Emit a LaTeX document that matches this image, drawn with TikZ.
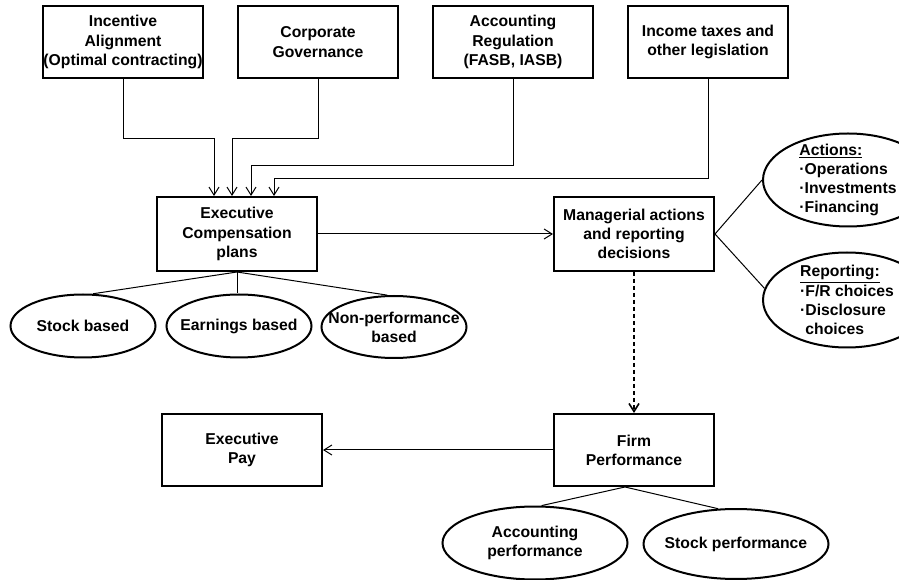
\documentclass[tikz,border=0pt]{standalone}
\usepackage{fontspec}
\setmainfont{Liberation Sans}
\usetikzlibrary{shapes,arrows.meta,positioning,calc}

\begin{document}
\begin{tikzpicture}[
    x=0.75pt, y=-0.75pt,
    node distance=24.75pt,
    font=\fontsize{11.8}{14.4}\selectfont\bfseries,
    box/.style={rectangle, draw=black, line width=1.5pt, align=center, inner xsep=0pt, minimum width=120pt, minimum height=54pt},
    oval/.style={ellipse, draw=black, line width=1.5pt, align=center, inner sep=-60pt},
    link/.style={line width=0.75pt},
    arrow/.style={-{Straight Barb[length=6pt,width=7.5pt]}, line width=0.75pt}
]
    \useasboundingbox (0,0) rectangle (899,580);

    % influences
    \node [box] (incentive) at (123,42) {Incentive\\Alignment\\(Optimal contracting)};
    \node [box, right=of incentive] (governance) {Corporate\\Governance};
    \node [box, right=of governance] (regulation) {Accounting\\Regulation\\(FASB, IASB)};
    \node [box, right=of regulation] (taxes) {Income taxes and\\other legislation};

    % main chain
    \node [box, minimum height=55.5pt] (comp) at (237,234) {Executive\\Compensation\\plans};
    \node [box, minimum height=55.5pt] (decide) at (634,234) {Managerial actions\\and reporting\\decisions};
    \node [box] (firm) at (634,450) {Firm\\Performance};
    \node [box] (pay) at (242,450) {Executive\\Pay};

    % plan types
    \node [oval, minimum width=108.75pt, minimum height=47.25pt] (stock) at (83,326) {Stock based};
    \node [oval, minimum width=108.75pt, minimum height=47.25pt] (earn) at (239,326) {Earnings based};
    \node [oval, minimum width=108.75pt, minimum height=46.5pt] (nonperf) at (394,327) {Non-performance\\based};

    % decisions
    \node [oval, align=left, minimum width=127.5pt, minimum height=69.75pt] (acts) at (848,180)
        {\underline{Actions:}\\·Operations\\·Investments\\·Financing};
    \node [oval, align=left, minimum width=126pt, minimum height=71.25pt] (rep) at (847,300)
        {\underline{Reporting:}\\·F/R choices\\·Disclosure\\\phantom{·}choices};

    % performance measures
    \node [oval, minimum width=138.75pt, minimum height=54.75pt] (acctperf) at (535,543) {Accounting\\performance};
    \node [oval, minimum width=138.75pt, minimum height=52.5pt] (stockperf) at (736,544) {Stock performance};

    \draw [arrow] (incentive.south) -- ++(0,60) -| ([xshift=-17.25pt]comp.north);
    \draw [arrow] (governance.south) -- ++(0,60) -| ([xshift=-3.75pt]comp.north);
    \draw [arrow] (regulation.south) -- ++(0,87) -| ([xshift=10.5pt]comp.north);
    \draw [arrow] (taxes.south) -- ++(0,100) -| ([xshift=27.75pt]comp.north);

    \draw [arrow] (comp.east) -- (decide.west);
    \draw [arrow, line width=1.2pt, dash pattern=on 3pt off 2.25pt] (decide.south) -- (firm.north);
    \draw [arrow] (firm.west) -- (pay.east);

    \draw [link] (comp.south) -- (stock.73);
    \draw [link] (comp.south) -- (comp.south |- earn.north);
    \draw [link] (comp.south) -- (nonperf.102);

    \draw [link] (decide.east) -- (acts.west);
    \draw [link] (decide.east) -- (rep.172);

    \draw [link] ([xshift=-6.75pt]firm.south) -- (acctperf.80);
    \draw [link] ([xshift=-6.75pt]firm.south) -- (stockperf.117);
\end{tikzpicture}
\end{document}
